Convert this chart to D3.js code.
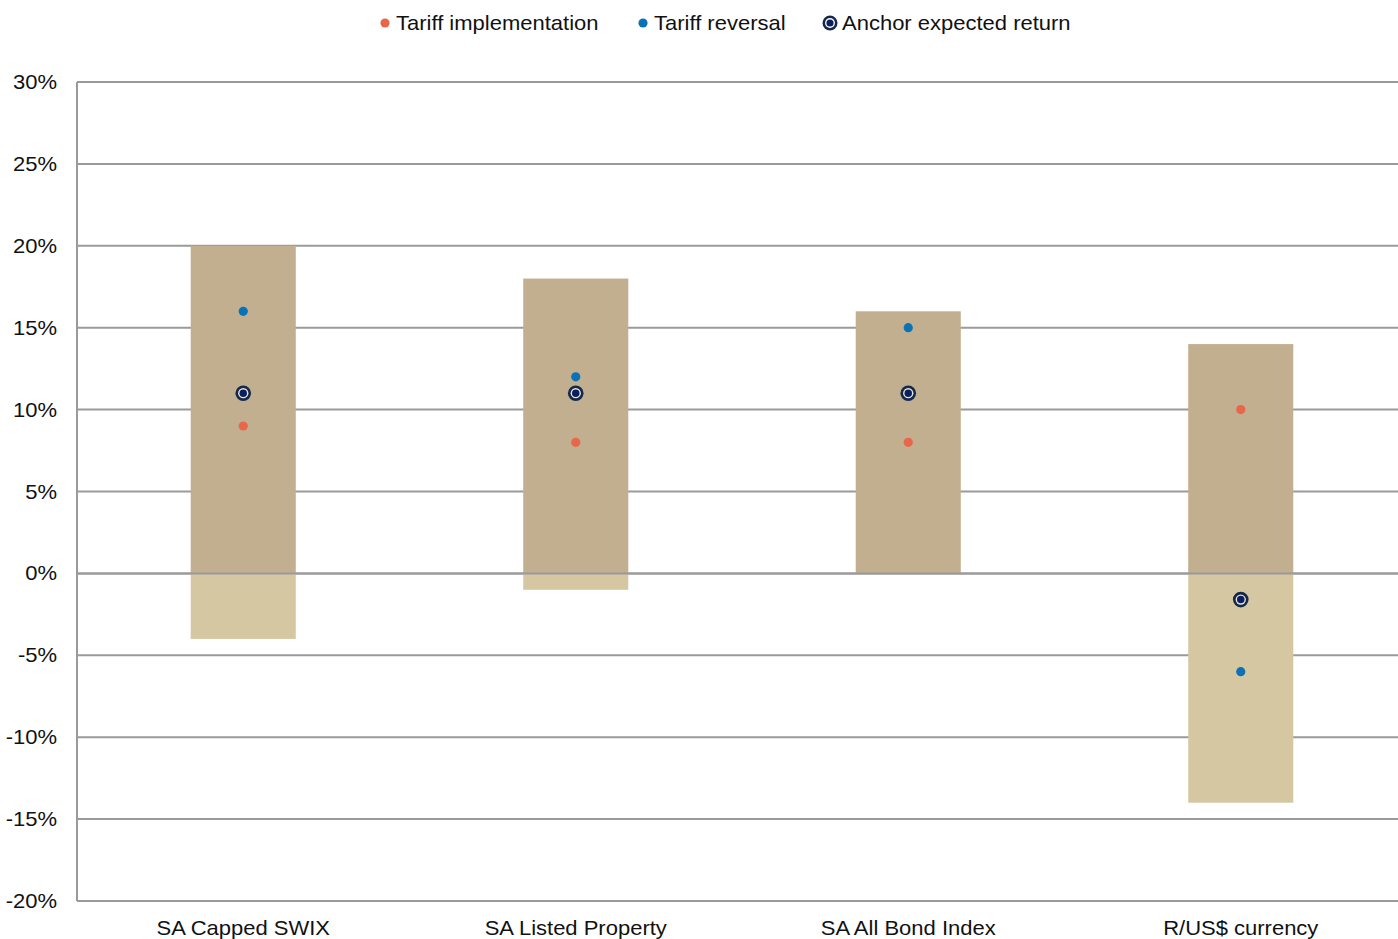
<!DOCTYPE html>
<html>
<head>
<meta charset="utf-8">
<script src="https://cdn.jsdelivr.net/npm/d3@7"></script>
<style>
  html, body { margin: 0; padding: 0; background: #ffffff; }
  svg { display: block; font-family: "Liberation Sans", Arial, sans-serif; }
</style>
</head>
<body>
<svg id="chart" width="1398" height="939"></svg>
<script>
// Asset classes and expected-return ranges (%)
const categories = ["SA Capped SWIX", "SA Listed Property", "SA All Bond Index", "R/US$ currency"];
const rangeHigh = [20, 18, 16, 14];
const rangeLow = [-4, -1, 0, -14];
const tariffImplementation = [9, 8, 8, 10];
const tariffReversal = [16, 12, 15, -6];
const anchorExpected = [11, 11, 11, -1.6];
const yTicks = [30, 25, 20, 15, 10, 5, 0, -5, -10, -15, -20];

const colors = {
  upper: "#c2af8f",
  lower: "#d5c7a2",
  grid: "#9a9a9a",
  text: "#111111",
  implementation: "#e8664a",
  reversal: "#0a73b7",
  anchorOuter: "#13284a",
  anchorRing: "#e9e3d6",
  anchorInner: "#0b1f5e"
};

// Labels use a slightly widened type
const FONT_SIZE = 20;
const STRETCH = 1.1;

const svg = d3.select("#chart");
const margin = { left: 77, right: -9, top: 82, bottom: 38 };
const W = 1398, H = 939;

const x = d3.scaleBand()
  .domain(categories)
  .range([margin.left, W - margin.right])
  .paddingInner(0.684)
  .paddingOuter(0.342);

const y = d3.scaleLinear()
  .domain([-20, 30])
  .range([H - margin.bottom, margin.top]);

function label(parent, px, py, str, anchor) {
  return parent.append("text")
    .attr("transform", `translate(${px},${py}) scale(${STRETCH},1)`)
    .attr("text-anchor", anchor)
    .attr("dy", "0.35em")
    .attr("font-size", FONT_SIZE)
    .attr("fill", colors.text)
    .text(str);
}

// Horizontal gridlines
svg.append("g")
  .selectAll("line")
  .data(yTicks)
  .join("line")
  .attr("x1", margin.left)
  .attr("x2", W)
  .attr("y1", d => y(d))
  .attr("y2", d => y(d))
  .attr("stroke", colors.grid)
  .attr("stroke-width", 2);

// Y axis line
svg.append("line")
  .attr("x1", margin.left).attr("x2", margin.left)
  .attr("y1", y(30)).attr("y2", y(-20))
  .attr("stroke", colors.grid).attr("stroke-width", 2);

// Y tick labels
const yl = svg.append("g");
yTicks.forEach(t => label(yl, 57, y(t), t + "%", "end"));

const rows = categories.map((c, i) => ({
  c, hi: rangeHigh[i], lo: rangeLow[i],
  imp: tariffImplementation[i], rev: tariffReversal[i], anc: anchorExpected[i]
}));

// Range bars: positive part darker, negative part lighter
const bars = svg.append("g");
bars.selectAll("rect.up")
  .data(rows)
  .join("rect")
  .attr("class", "up")
  .attr("x", d => x(d.c))
  .attr("width", x.bandwidth())
  .attr("y", d => y(d.hi))
  .attr("height", d => y(0) - y(d.hi))
  .attr("fill", colors.upper);
bars.selectAll("rect.down")
  .data(rows.filter(d => d.lo < 0))
  .join("rect")
  .attr("class", "down")
  .attr("x", d => x(d.c))
  .attr("width", x.bandwidth())
  .attr("y", y(0))
  .attr("height", d => y(d.lo) - y(0))
  .attr("fill", colors.lower);

// Zero line over the bars
svg.append("line")
  .attr("x1", margin.left).attr("x2", W)
  .attr("y1", y(0)).attr("y2", y(0))
  .attr("stroke", colors.grid).attr("stroke-width", 2);

// Category labels
const xl = svg.append("g");
categories.forEach(c => label(xl, x(c) + x.bandwidth() / 2, 928, c, "middle"));

const cx = d => x(d.c) + x.bandwidth() / 2;

function anchorMarker(sel, r, ring) {
  sel.append("circle").attr("r", r).attr("fill", colors.anchorOuter);
  sel.append("circle").attr("r", r * 0.66).attr("fill", ring);
  sel.append("circle").attr("r", r * 0.48).attr("fill", colors.anchorInner);
}

// Scenario points
const pts = svg.append("g");
pts.selectAll("circle.imp")
  .data(rows).join("circle")
  .attr("class", "imp")
  .attr("cx", cx).attr("cy", d => y(d.imp))
  .attr("r", 4.6).attr("fill", colors.implementation);
pts.selectAll("circle.rev")
  .data(rows).join("circle")
  .attr("class", "rev")
  .attr("cx", cx).attr("cy", d => y(d.rev))
  .attr("r", 4.6).attr("fill", colors.reversal);
pts.selectAll("g.anc")
  .data(rows).join("g")
  .attr("class", "anc")
  .attr("transform", d => `translate(${cx(d)},${y(d.anc)})`)
  .each(function () { anchorMarker(d3.select(this), 7.8, colors.anchorRing); });

// Legend
const legendItems = [
  { label: "Tariff implementation", type: "imp", x: 385 },
  { label: "Tariff reversal", type: "rev", x: 643 },
  { label: "Anchor expected return", type: "anc", x: 830 }
];
const lg = svg.append("g");
legendItems.forEach(it => {
  const g = lg.append("g").attr("transform", `translate(${it.x},23)`);
  if (it.type === "anc") {
    anchorMarker(g, 7.5, "#ffffff");
  } else {
    g.append("circle").attr("r", 4.6)
      .attr("fill", it.type === "imp" ? colors.implementation : colors.reversal);
  }
  label(g, it.type === "anc" ? 12 : 11, 0, it.label, "start");
});
</script>
</body>
</html>
